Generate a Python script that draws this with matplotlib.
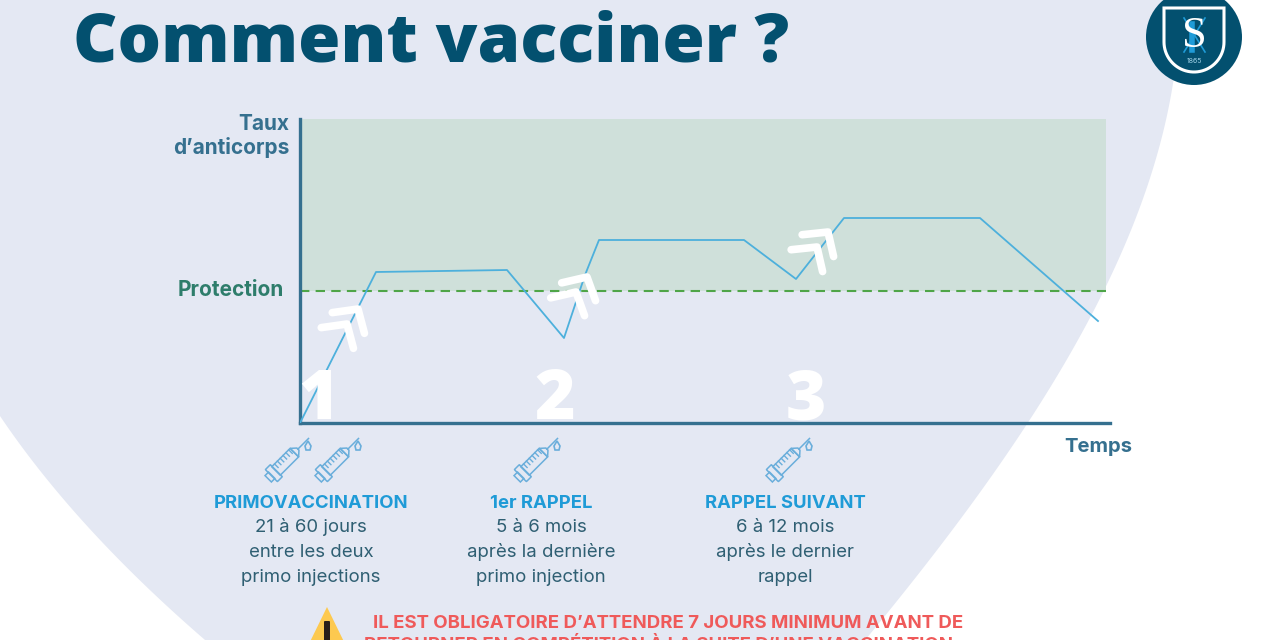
import numpy as np
import matplotlib
matplotlib.use("Agg")
import matplotlib.pyplot as plt
from matplotlib.patches import Circle, Polygon, Rectangle, FancyBboxPatch
from matplotlib.transforms import Affine2D

# Chart data (time, antibody level, in picture units from the origin)
time_pts = [0, 76, 207, 264, 285, 299, 444, 496, 544, 680, 798]
level_pts = [0, 151, 153, 85, 148, 183, 183, 144, 205, 205, 102]
protection = 132
x_max = 810
y_max = 304
zone_end = 806

step_labels = ["1", "2", "3"]
step_x = [318, 555, 806]
syringe_x = [288, 338, 537, 789]
drop_x = [308, 358, 557, 809]
block_x = [311, 541, 785]
block_titles = ["PRIMOVACCINATION", "1er RAPPEL", "RAPPEL SUIVANT"]
block_lines = [
    ["21 à 60 jours", "entre les deux", "primo injections"],
    ["5 à 6 mois", "après la dernière", "primo injection"],
    ["6 à 12 mois", "après le dernier", "rappel"],
]
# tip of the outer chevron, tilt
arrow_tips = [(358, 309), (587, 277), (828, 232)]
arrow_tilt = [-8, -13, -6]

# edges of the tinted background shape
left_edge_y = [416, 483, 540, 590, 640]
left_edge_x = [0, 50, 100, 150, 205]
right_edge_y = [0, 80, 147, 220, 283, 327, 373, 420, 470, 500, 543, 620]
right_edge_x = [1180, 1173, 1160, 1133, 1107, 1087, 1060, 1030, 997, 973, 940, 883]

DARK = "#03506f"
AXIS = "#35708f"
BLUE = "#1f9bd7"
TEXT = "#2f5f73"
TINT = "#e4e8f3"
SYR = "#6aaedb"
SANS = ["Inter", "DejaVu Sans"]

plt.rcParams["font.family"] = SANS

fig = plt.figure(figsize=(12.8, 6.4), dpi=100, facecolor="white")

# Page layer in pixel coordinates, below the chart
page = fig.add_axes([0, 0, 1, 1])
page.set_xlim(0, 1280)
page.set_ylim(640, 0)
page.axis("off")
# smooth the read edge points so the shape has no corners
ys_r = np.linspace(-5, 645, 100)
xs_r = np.polyval(np.polyfit(right_edge_y, right_edge_x, 3), ys_r)
ys_l = np.linspace(645, 416, 40)
xs_l = np.polyval(np.polyfit(left_edge_y, left_edge_x, 2), ys_l)
page.add_patch(Polygon(np.r_[[[-5, -5]], np.c_[xs_r, ys_r], np.c_[xs_l, ys_l], [[-5, 412]]],
                       closed=True, fc=TINT, ec="none", zorder=0))

page.text(73, 61.5, "Comment vacciner ?", fontsize=49.3, fontweight=800, color=DARK,
          va="baseline", ha="left", family=["Open Sans", "DejaVu Sans"])

# Chart
ax = fig.add_axes([300 / 1280, 1 - 423 / 640, x_max / 1280, y_max / 640])
ax.patch.set_alpha(0)
ax.set_xlim(0, x_max)
ax.set_ylim(0, y_max)
ax.set_xticks([])
ax.set_yticks([])
for s in ["top", "right"]:
    ax.spines[s].set_visible(False)
for s in ["left", "bottom"]:
    ax.spines[s].set_color(AXIS)
    ax.spines[s].set_linewidth(2.4)
ax.fill_between([0, zone_end], protection, y_max, color="#cfe0da", lw=0, zorder=1)
ax.plot([0, zone_end], [protection, protection], color="#4fa548", lw=1.5,
        ls=(0, (4.5, 3)), zorder=2)
ax.plot(time_pts, level_pts, color="#4db0dc", lw=1.3, zorder=3)

# Overlay for everything drawn over the chart
top = fig.add_axes([0, 0, 1, 1])
top.patch.set_alpha(0)
top.set_xlim(0, 1280)
top.set_ylim(640, 0)
top.axis("off")

# Axis labels
top.text(289, 123.5, "Taux", fontsize=15, fontweight="bold", color=AXIS, ha="right", va="center")
top.text(289, 147.5, "d’anticorps", fontsize=15, fontweight="bold", color=AXIS, ha="right", va="center")
top.text(284, 289.5, "Protection", fontsize=15, fontweight="bold", color="#2e7d6b", ha="right", va="center")
top.text(1098, 446.5, "Temps", fontsize=14.6, fontweight="bold", color=AXIS, ha="center", va="center")


def syringe(x, y):
    tr = Affine2D().rotate_deg(-45).translate(x, y) + top.transData
    kw = dict(fc="none", ec=SYR, lw=1.1, transform=tr, zorder=4)
    top.add_patch(Rectangle((-17, -6), 26, 12, **kw))
    top.add_patch(FancyBboxPatch((-23, -8), 6, 16, boxstyle="round,pad=0.5", **kw))
    top.add_patch(Rectangle((-28, -4.5), 5, 9, **kw))
    top.add_patch(Polygon([(9, -6), (14, -1.5), (14, 1.5), (9, 6)], closed=True, **kw))
    top.plot([14, 29], [0, 0], color=SYR, lw=1.1, transform=tr, zorder=4)
    for t in range(-13, 8, 4):
        top.plot([t, t], [-6, -1], color=SYR, lw=1.0, transform=tr, zorder=4)


for x in syringe_x:
    syringe(x, 459)
for x in drop_x:
    top.add_patch(Polygon([(x, 441), (x + 3, 446), (x + 2, 450), (x - 2, 450), (x - 3, 446)],
                          closed=True, fc="none", ec=SYR, lw=1.2, zorder=4))

# White step numbers and double arrows
for lab, x in zip(step_labels, step_x):
    top.text(x, 419, lab, fontsize=50, fontweight=800, color="white", ha="center",
             va="baseline", zorder=5, family=["Open Sans", "DejaVu Sans"])
for (x, y), tilt in zip(arrow_tips, arrow_tilt):
    for dx, dy in [(0, 0), (-11, 15)]:
        tr = Affine2D().rotate_deg(tilt).translate(x + dx, y + dy) + top.transData
        top.plot([-26, 0, 3], [0, 0, 25], color="white", lw=5.5, solid_joinstyle="round",
                 solid_capstyle="round", transform=tr, zorder=5)

# Text blocks
for x, title, lines in zip(block_x, block_titles, block_lines):
    top.text(x, 503, title, fontsize=13.3, fontweight="bold", color=BLUE, ha="center", va="center")
    for i, line in enumerate(lines):
        top.text(x, 527.5 + i * 24.8, line, fontsize=13.4, color=TEXT, ha="center", va="center")

# Warning
top.add_patch(Polygon([(327, 607), (348, 650), (306, 650)], closed=True, fc="#fdc94f", ec="none"))
top.add_patch(FancyBboxPatch((325, 622), 4, 30, boxstyle="round,pad=1", fc="#2a1f1a", ec="none"))
top.text(668, 623, "IL EST OBLIGATOIRE D’ATTENDRE 7 JOURS MINIMUM AVANT DE", fontsize=13.4,
         fontweight="bold", color="#ef5a5a", ha="center", va="center")
top.text(662, 645, "RETOURNER EN COMPÉTITION À LA SUITE D’UNE VACCINATION.", fontsize=13.4,
         fontweight="bold", color="#ef5a5a", ha="center", va="center")

# Logo
top.add_patch(Circle((1194, 37), 48, fc=DARK, ec="none", zorder=6))
t = np.linspace(0, np.pi, 40)
shield_x = np.r_[1164, 1224, 1194 + 30 * np.cos(t), 1164]
shield_y = np.r_[8, 8, 42 + 30 * np.sin(t), 8]
top.add_patch(Polygon(np.c_[shield_x, shield_y], closed=True, fc="none", ec="white", lw=2.2, zorder=7))
top.plot([1184, 1205], [18, 52], color=BLUE, lw=1.2, zorder=7)
top.plot([1205, 1184], [18, 52], color=BLUE, lw=1.2, zorder=7)
top.plot([1192, 1192], [24, 50], color=BLUE, lw=4, zorder=7)
top.text(1194, 36, "S", fontsize=32, color="white", family="Liberation Serif", ha="center", va="center", zorder=8)
top.text(1194, 61, "1865", fontsize=5, color="#9fd0e6", ha="center", va="center", zorder=8)

fig.savefig("out.png", dpi=100)
